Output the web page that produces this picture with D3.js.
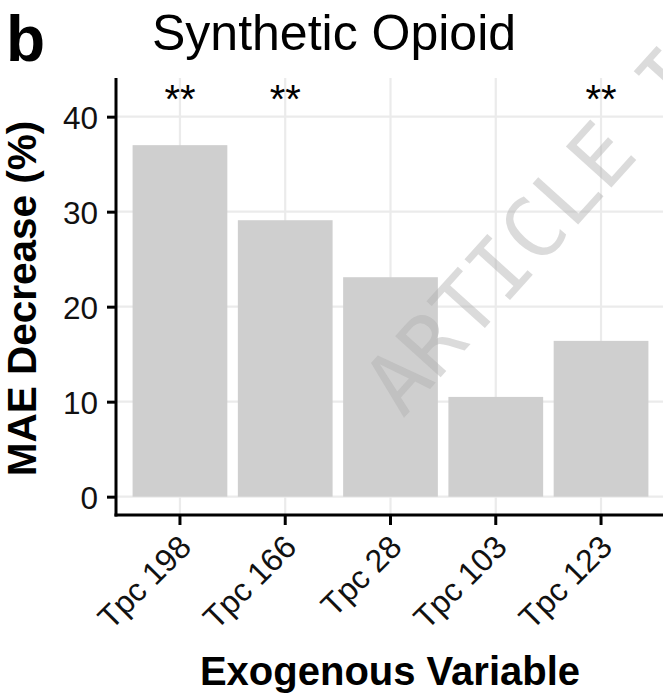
<!DOCTYPE html>
<html>
<head>
<meta charset="utf-8">
<script src="https://cdn.jsdelivr.net/npm/d3@7"></script>
<style>
  html, body { margin: 0; padding: 0; background: #fff; }
  svg { display: block; font-family: "Liberation Sans", Arial, sans-serif; }
</style>
</head>
<body>
<svg id="chart" width="663" height="696"></svg>
<script>
// ---- data ----
const categories = ["Tpc 198", "Tpc 166", "Tpc 28", "Tpc 103", "Tpc 123"];
const values = [37.0, 29.1, 23.1, 10.5, 16.4];
const significance = ["**", "**", "", "", "**"];
const yTicks = [0, 10, 20, 30, 40];
const starLevel = [42];
const panelLabel = ["b"];
const titleText = ["Synthetic Opioid"];
const xTitle = ["Exogenous Variable"];
const yTitle = ["MAE Decrease (%)"];
const watermark = ["ARTICLE IN PRESS"];

// ---- layout ----
const svg = d3.select("#chart");
const panel = { left: 116.8, right: 664.2, top: 78, bottom: 515 };

const x = d3.scaleBand()
  .domain(categories)
  .range([panel.left, panel.right])
  .paddingInner(0.1)
  .paddingOuter(0.15);

const y = d3.scaleLinear()
  .domain([-1.93, 44.07])
  .range([panel.bottom, panel.top]);

const gridColor = "#ebebeb";
const barColor = "#cfcfcf";

// grid
const grid = svg.append("g");
grid.selectAll("line.h").data(yTicks).join("line")
  .attr("x1", panel.left).attr("x2", panel.right)
  .attr("y1", d => y(d)).attr("y2", d => y(d))
  .attr("stroke", gridColor).attr("stroke-width", 2.2);
grid.selectAll("line.v").data(categories).join("line")
  .attr("x1", d => x(d) + x.bandwidth() / 2).attr("x2", d => x(d) + x.bandwidth() / 2)
  .attr("y1", panel.top).attr("y2", panel.bottom)
  .attr("stroke", gridColor).attr("stroke-width", 2.2);

// bars
svg.append("g").selectAll("rect").data(values).join("rect")
  .attr("x", (d, i) => x(categories[i]))
  .attr("width", x.bandwidth())
  .attr("y", d => y(d))
  .attr("height", d => y(0) - y(d))
  .attr("fill", barColor);

// significance stars
svg.append("g").selectAll("text").data(significance).join("text")
  .attr("x", (d, i) => x(categories[i]) + x.bandwidth() / 2)
  .attr("y", y(starLevel[0]))
  .attr("dy", 15)
  .attr("text-anchor", "middle")
  .attr("font-size", 40)
  .attr("fill", "#000")
  .text(d => d);

// y axis
const yAxis = d3.axisLeft(y).tickValues(yTicks).tickSize(9).tickPadding(9);
const gy = svg.append("g").attr("transform", `translate(${panel.left - 0.8},0)`).call(yAxis);
gy.select(".domain").attr("d", `M0,${panel.top}V${panel.bottom + 1.5}`).attr("stroke", "#000").attr("stroke-width", 3);
gy.selectAll(".tick line").attr("stroke", "#000").attr("stroke-width", 3);
gy.selectAll(".tick text").attr("font-size", 31.5).attr("fill", "#111")
  .attr("font-family", "Liberation Sans, Arial, sans-serif").attr("dy", "0.36em");

// x axis
const xAxis = d3.axisBottom(x).tickSize(10).tickPadding(6);
const gx = svg.append("g").attr("transform", `translate(0,${panel.bottom})`).call(xAxis);
gx.select(".domain").attr("d", `M${panel.left - 2.3},0H${panel.right}`).attr("stroke", "#000").attr("stroke-width", 3);
gx.selectAll(".tick line").attr("stroke", "#000").attr("stroke-width", 3);
gx.selectAll(".tick text")
  .attr("font-size", 32).attr("fill", "#111")
  .attr("font-family", "Liberation Sans, Arial, sans-serif")
  .attr("text-anchor", "end")
  .attr("dy", null).attr("y", null)
  .attr("transform", "translate(13,34) rotate(-45)");

// axis titles
svg.append("text")
  .attr("x", 390).attr("y", 685)
  .attr("text-anchor", "middle").attr("font-weight", "bold").attr("font-size", 40)
  .attr("fill", "#000")
  .text(xTitle[0]);

svg.append("text")
  .attr("transform", `translate(36,298.5) rotate(-90)`)
  .attr("text-anchor", "middle").attr("font-weight", "bold").attr("font-size", 40.5)
  .attr("fill", "#000")
  .text(yTitle[0]);

// title + panel label
svg.append("text").attr("x", 152).attr("y", 50)
  .attr("font-size", 50).attr("fill", "#000").text(titleText[0]);
svg.append("text").attr("x", 6).attr("y", 61)
  .attr("font-size", 64).attr("font-weight", "bold").attr("fill", "#000").text(panelLabel[0]);

// watermark
svg.append("text")
  .attr("transform", "translate(403,419) rotate(-48)")
  .attr("font-family", "DejaVu Sans Mono, monospace")
  .attr("font-size", 84)
  .attr("fill", "#b0b0b0").attr("fill-opacity", 0.45)
  .text(watermark[0]);
</script>
</body>
</html>
